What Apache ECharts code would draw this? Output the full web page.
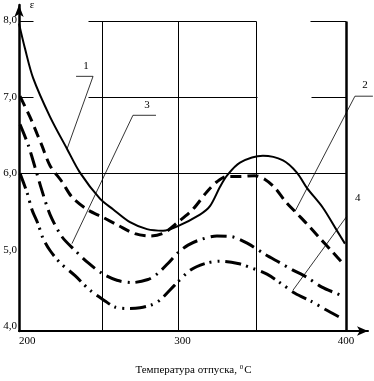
<!DOCTYPE html>
<html>
<head>
<meta charset="utf-8">
<script src="https://cdn.jsdelivr.net/npm/echarts@6/dist/echarts.min.js"></script>
<style>
  html, body { margin: 0; padding: 0; background: #fff; }
  #chart { width: 374px; height: 381px; }
</style>
</head>
<body>
<div id="chart"></div>
<script>
// x tick values and y tick labels (comma decimals as in the source)
const xTickValues = [200, 300, 400]
const yTickValues = [4, 5, 6, 7, 8]
const yTickLabels = ['4,0', '5,0', '6,0', '7,0', '8,0']

// curve 1 - solid
const curve1X = [200, 203.7, 208.6, 219.0, 229.4, 237.3, 249.5, 257.5, 267.9, 278.3, 288.1, 297.2, 310.7, 316.8, 322.9, 327.2, 335.2, 349.2, 361.5, 370.0, 376.1, 385.9, 394.5, 399.4]
const curve1Y = [7.96, 7.63, 7.25, 6.74, 6.32, 6.01, 5.67, 5.53, 5.36, 5.27, 5.25, 5.31, 5.46, 5.57, 5.82, 5.97, 6.14, 6.23, 6.17, 6.01, 5.81, 5.55, 5.25, 5.08]

// curve 2 - dashed
const curve2X = [200.6, 206.7, 211.0, 214.1, 219.0, 226.3, 232.4, 242.2, 250.8, 260.6, 270.9, 280.1, 288.7, 297.2, 306.4, 315.0, 321.1, 327.2, 335.2, 344.3, 350.5, 356.6, 362.7, 368.8, 376.1, 384.1, 391.4, 399.4]
const curve2Y = [7.01, 6.74, 6.52, 6.36, 6.10, 5.89, 5.69, 5.52, 5.43, 5.32, 5.21, 5.18, 5.22, 5.36, 5.53, 5.76, 5.89, 5.96, 5.96, 5.97, 5.92, 5.81, 5.64, 5.50, 5.34, 5.15, 4.98, 4.79]

// curve 3 - dash dot
const curve3X = [200.6, 205.5, 209.8, 214.1, 219.0, 226.3, 234.3, 242.2, 250.8, 259.9, 269.1, 278.9, 284.4, 291.1, 297.2, 303.4, 310.7, 321.1, 330.3, 340.1, 350.5, 359.6, 367.0, 376.1, 385.3, 393.9, 399.4]
const curve3Y = [6.64, 6.38, 6.08, 5.77, 5.46, 5.17, 4.99, 4.83, 4.69, 4.60, 4.57, 4.61, 4.68, 4.82, 4.96, 5.06, 5.13, 5.18, 5.17, 5.08, 4.94, 4.83, 4.74, 4.64, 4.51, 4.43, 4.38]

// curve 4 - dash dot dot
const curve4X = [200.6, 204.9, 208.0, 211.6, 214.7, 219.0, 225.1, 234.3, 243.4, 252.6, 258.7, 266.1, 274.0, 281.3, 286.2, 295.4, 304.6, 313.8, 322.9, 333.9, 342.5, 351.7, 360.9, 368.8, 379.2, 387.2, 397.6]
const curve4Y = [6.00, 5.75, 5.52, 5.34, 5.15, 4.99, 4.83, 4.66, 4.47, 4.33, 4.25, 4.23, 4.24, 4.28, 4.34, 4.54, 4.73, 4.82, 4.85, 4.82, 4.76, 4.68, 4.55, 4.43, 4.32, 4.22, 4.10]

const zip = (xs, ys) => xs.map((x, i) => [x, ys[i]])

const X_MIN = 200, X_MAX = 413.5
const Y_MIN = 3.936, Y_MAX = 8.204
const serif = 'Liberation Serif'

const chart = echarts.init(document.getElementById('chart'))

const curveSeries = (name, xs, ys, width, dash) => ({
  name,
  type: 'line',
  data: zip(xs, ys),
  smooth: 0.3,
  symbol: 'none',
  silent: true,
  lineStyle: { color: '#000', width, type: dash, cap: 'butt' },
})

const option = {
  animation: false,
  grid: { left: 19, right: 6, top: 5, bottom: 41 },
  xAxis: {
    type: 'value',
    min: X_MIN,
    max: X_MAX,
    name: '{a|Температура отпуска, }{s|0}{a|С}',
    nameLocation: 'middle',
    nameGap: 33,
    nameTextStyle: {
      rich: {
        a: { fontFamily: serif, fontSize: 11, color: '#000' },
        s: { fontFamily: serif, fontSize: 7, color: '#000', verticalAlign: 'top', padding: [0, 1, 6, 0] },
      },
    },
    axisLine: { lineStyle: { color: '#000', width: 2 }, symbol: ['none', 'arrow'], symbolSize: [7, 11] },
    axisTick: { show: false },
    splitLine: { show: false },
    axisLabel: {
      customValues: xTickValues, alignMinLabel: 'left',
      color: '#000', fontFamily: serif, fontSize: 11, margin: 5,
    },
  },
  yAxis: {
    type: 'value',
    min: Y_MIN,
    max: Y_MAX,
    axisLine: { show: true, lineStyle: { color: '#000', width: 2.5 }, symbol: ['none', 'arrow'], symbolSize: [7, 12] },
    axisTick: { show: false },
    splitLine: { show: false },
    axisLabel: {
      customValues: yTickValues,
      formatter: v => yTickLabels[yTickValues.indexOf(Math.round(v))],
      color: '#000', fontFamily: serif, fontSize: 11, margin: 2,
    },
  },
  series: [
    curveSeries('1', curve1X, curve1Y, 2, 'solid'),
    curveSeries('2', curve2X, curve2Y, 3, [11, 6]),
    curveSeries('3', curve3X, curve3Y, 3, [16, 6, 2, 6]),
    curveSeries('4', curve4X, curve4Y, 3, [16, 5, 2, 6, 2, 6]),
  ],
}
chart.setOption(option)

// drawing frame lines and curve captions, given in data coordinates
const frameLines = [
  { from: [200, 8], to: [208.6, 8], w: 1 },
  { from: [242.2, 8], to: [345, 8], w: 1 },
  { from: [378, 8], to: [400, 8], w: 1 },
  { from: [200, 7], to: [208.6, 7], w: 1 },
  { from: [242.2, 7], to: [345.5, 7], w: 1 },
  { from: [378.6, 7], to: [400, 7], w: 1 },
  { from: [200, 6], to: [400, 6], w: 1 },
  { from: [250.8, Y_MIN], to: [250.8, 8], w: 1 },
  { from: [297.2, Y_MIN], to: [297.2, 8], w: 1 },
  { from: [345, Y_MIN], to: [345, 8], w: 1 },
  { from: [400, Y_MIN], to: [400, 8], w: 2.5 },
]
const leaders = [
  { text: '1', at: [241.0, 7.41], path: [[234.9, 7.27], [245.3, 7.27], [229.4, 6.32]] },
  { text: '3', at: [278.3, 6.89], path: [[283.8, 6.76], [269.7, 6.76], [232.4, 5.08]] },
  { text: '2', at: [411.6, 7.15], path: [[416.5, 7.01], [405.5, 7.01], [368.8, 5.50]] },
  { text: '4', at: [407.3, 5.67], path: [[400.6, 5.44], [367.6, 4.47]] },
]

const px = p => chart.convertToPixel({ gridIndex: 0 }, p)
const crisp = v => Math.round(v) + 0.5
const graphics = []
frameLines.forEach(l => {
  const a = px(l.from), b = px(l.to)
  graphics.push({
    type: 'line', silent: true,
    shape: { x1: crisp(a[0]), y1: crisp(a[1]), x2: crisp(b[0]), y2: crisp(b[1]) },
    style: { stroke: '#000', lineWidth: l.w },
  })
})
leaders.forEach(l => {
  graphics.push({
    type: 'polyline', silent: true,
    shape: { points: l.path.map(px) },
    style: { stroke: '#000', lineWidth: 0.8, fill: null },
  })
  const t = px(l.at)
  graphics.push({
    type: 'text', silent: true, x: t[0], y: t[1],
    style: { text: l.text, font: `11px "${serif}"`, fill: '#000', align: 'center', verticalAlign: 'middle' },
  })
})
const eps = px([208.0, 8.2])
graphics.push({
  type: 'text', silent: true, x: eps[0], y: eps[1],
  style: { text: 'ε', font: `11px "${serif}"`, fill: '#000', align: 'center', verticalAlign: 'middle' },
})
chart.setOption({ graphic: graphics })
</script>
</body>
</html>
